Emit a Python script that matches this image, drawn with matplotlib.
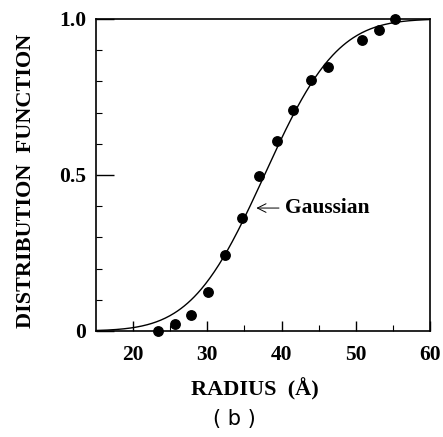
import numpy as np
import matplotlib
matplotlib.use('Agg')
from matplotlib import pyplot as plt
from math import erf, sqrt

# measured points
radius = [23.3, 25.6, 27.8, 30.1, 32.4, 34.7, 37.0, 39.4, 41.6, 43.9, 46.2, 50.8, 53.1, 55.3]
dist = [0.0, 0.022, 0.052, 0.124, 0.245, 0.361, 0.498, 0.608, 0.708, 0.803, 0.847, 0.934, 0.964, 1.0]

# gaussian fit parameters
mu = 37.7
sigma = 7.7

serif = 'Liberation Serif'


def gauss_cdf(r):
    return [0.5 * (1 + erf((v - mu) / (sigma * sqrt(2)))) for v in r]


fig = plt.figure(figsize=(4.43, 4.37), dpi=100)
ax = fig.add_axes([0.2167, 0.2426, 0.754, 0.714])

r = np.linspace(15, 60, 300)
ax.plot(r, gauss_cdf(r), color='black', lw=1.0)
ax.plot(radius, dist, 'o', color='black', ms=6.8, clip_on=False, zorder=3)

ax.annotate('Gaussian', xy=(36.6, 0.394), xytext=(40.4, 0.394),
            fontsize=15.5, fontweight='bold', family=serif, va='center',
            arrowprops=dict(arrowstyle='->', color='black', lw=0.7,
                            shrinkA=2, shrinkB=0))

ax.set_xlim(15, 60)
ax.set_ylim(0, 1.0)
ax.set_xticks([20, 30, 40, 50, 60])
ax.set_xticks([25, 35, 45, 55], minor=True)
ax.set_yticks([0, 0.5, 1.0])
ax.set_yticklabels(['0', '0.5', '1.0'])
ax.set_yticks(np.arange(0.1, 1.0, 0.1), minor=True)

ax.tick_params(which='major', axis='x', direction='in', length=7, width=1,
               pad=10, labelsize=15.5)
ax.tick_params(which='minor', axis='x', direction='in', length=4, width=0.8)
ax.tick_params(which='major', axis='y', direction='in', length=13, width=1,
               pad=7, labelsize=15.5)
ax.tick_params(which='minor', axis='y', direction='in', length=4, width=0.8)
for lab in ax.get_xticklabels() + ax.get_yticklabels():
    lab.set_family(serif)
    lab.set_fontweight('bold')

for s in ax.spines.values():
    s.set_linewidth(1.2)

ax.set_xlabel('RADIUS  (Å)', fontsize=16, fontweight='bold', family=serif)
ax.set_ylabel('DISTRIBUTION  FUNCTION', fontsize=16, fontweight='bold', family=serif)
ax.xaxis.set_label_coords(0.476, -0.15)
ax.yaxis.set_label_coords(-0.18, 0.48)

fig.text(0.529, 0.041, '( b )', ha='center', va='center', fontsize=15, family='DejaVu Sans')

plt.savefig('out.png', dpi=100)
